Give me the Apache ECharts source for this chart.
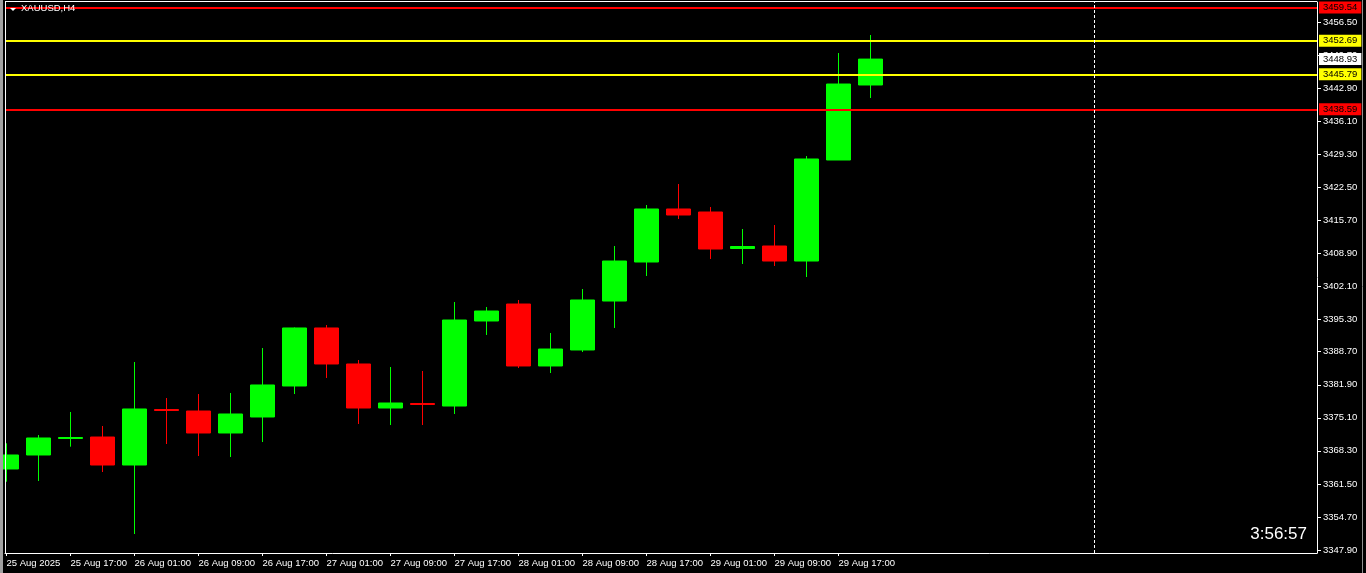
<!DOCTYPE html>
<html><head><meta charset="utf-8">
<script src="https://cdn.jsdelivr.net/npm/echarts@6/dist/echarts.min.js"></script>
<style>html,body{margin:0;padding:0;background:#000;}#c{width:1366px;height:573px;}</style>
</head><body><div id="c"></div>
<script>
const symbolText = 'XAUUSD,H4';
const timerText = '3:56:57';
const timeLabels = ['25 Aug 2025','25 Aug 17:00','26 Aug 01:00','26 Aug 09:00','26 Aug 17:00','27 Aug 01:00','27 Aug 09:00','27 Aug 17:00','28 Aug 01:00','28 Aug 09:00','28 Aug 17:00','29 Aug 01:00','29 Aug 09:00','29 Aug 17:00'];
const opens  = [3364.57,3367.45,3370.85,3371.15,3365.39,3376.81,3376.50,3371.98,3375.27,3381.65,3393.59,3386.18,3377.12,3378.05,3377.53,3395.03,3398.52,3385.77,3389.06,3399.14,3407.17,3418.08,3417.46,3409.95,3410.46,3407.37,3428.16,3443.60];
const closes = [3367.45,3370.95,3371.05,3365.39,3376.92,3376.61,3371.98,3375.89,3381.86,3393.59,3386.18,3377.12,3378.15,3377.84,3395.23,3397.08,3385.77,3389.26,3399.35,3407.37,3418.08,3416.84,3409.84,3410.36,3407.37,3428.37,3443.80,3448.93];
const lows   = [3361.95,3362.10,3369.16,3363.95,3351.19,3369.71,3367.24,3367.04,3370.12,3380.00,3383.30,3373.83,3373.62,3373.62,3375.89,3392.15,3385.35,3384.32,3388.65,3393.59,3404.29,3416.02,3407.79,3406.76,3406.35,3404.08,3428.16,3440.92];
const highs  = [3369.86,3371.56,3376.30,3373.42,3386.59,3379.18,3380.00,3380.21,3389.47,3393.70,3394.20,3387.00,3385.56,3384.74,3398.94,3397.91,3399.35,3392.56,3401.61,3410.46,3418.90,3423.22,3418.49,3413.96,3414.78,3428.98,3450.18,3453.89];
const yTickLabels = [3347.90,3354.70,3361.50,3368.30,3375.10,3381.90,3388.70,3395.30,3402.10,3408.90,3415.70,3422.50,3429.30,3436.10,3442.90,3449.70,3456.50];
const redLevels = [3459.54, 3438.59];
const yellowLevels = [3452.69, 3445.79];
const lastPrice = 3448.93;
const separatorBar = 34;
const yMin = 3347.28, yMax = 3460.68;
const xMin = -0.047, xMax = 40.953;

const FONT = '"Liberation Sans", Arial, sans-serif';
const candles = opens.map((o, i) => [i, o, closes[i], lows[i], highs[i]]);
const labelIdx = timeLabels.map((_, i) => i * 2);

function levelItem(v, bg, lineW) {
  return {
    yAxis: v,
    lineStyle: { color: lineW ? bg : 'transparent', width: lineW, type: 'solid' },
    label: { show: true, position: 'end', distance: 2, formatter: v.toFixed(2),
      backgroundColor: bg, color: '#000', padding: [1, 4, 1, 4], fontSize: 9.5,
      lineHeight: 10, fontFamily: FONT }
  };
}
const mlData = [];
redLevels.forEach(v => mlData.push(levelItem(v, '#ff0000', 2)));
yellowLevels.forEach(v => mlData.push(levelItem(v, '#ffff00', 2)));
mlData.push(levelItem(lastPrice, '#ffffff', 0));
mlData.push({ xAxis: separatorBar, lineStyle: { color: '#ffffff', width: 1, type: [3, 2] }, label: { show: false } });

const chart = echarts.init(document.getElementById('c'), null, { renderer: 'canvas' });
chart.setOption({
  backgroundColor: '#000',
  animation: false,
  title: { text: symbolText, left: 21, top: 3, padding: 0,
    textStyle: { color: '#fff', fontSize: 9.5, fontWeight: 'normal', fontFamily: FONT } },
  grid: { left: 5, right: 49, top: 2, bottom: 20, show: false },
  xAxis: {
    type: 'value', min: xMin, max: xMax, position: 'bottom',
    axisLine: { show: true, onZero: false, lineStyle: { color: '#fff', width: 1 } },
    axisTick: { show: true, customValues: labelIdx, length: 3, lineStyle: { color: '#fff' } },
    axisLabel: { show: true, customValues: labelIdx, formatter: v => timeLabels[Math.round(v / 2)],
      align: 'left', margin: 5.5, color: '#fff', fontSize: 9.5, fontFamily: FONT },
    splitLine: { show: false }
  },
  yAxis: {
    type: 'value', min: yMin, max: yMax, position: 'right',
    axisLine: { show: true, onZero: false, lineStyle: { color: '#fff', width: 1 } },
    axisTick: { show: true, customValues: yTickLabels, length: 4, lineStyle: { color: '#fff' } },
    axisLabel: { show: true, customValues: yTickLabels, formatter: v => v.toFixed(2),
      color: '#fff', fontSize: 9.5, fontFamily: FONT, margin: 6 },
    splitLine: { show: false }
  },
  series: [{
    type: 'candlestick',
    data: candles,
    barWidth: 24,
    itemStyle: { color: '#00ff00', color0: '#ff0000', borderColor: '#00ff00', borderColor0: '#ff0000', borderWidth: 1 },
    markLine: { silent: true, symbol: ['none', 'none'], animation: false, data: mlData }
  }],
  graphic: [
    { type: 'rect', z: 100, shape: { x: 0, y: 0, width: 3, height: 573 }, style: { fill: '#a0a0a0' } },
    { type: 'line', z: 100, shape: { x1: 5.5, y1: 1, x2: 5.5, y2: 553 }, style: { stroke: '#fff', lineWidth: 1 } },
    { type: 'line', z: 100, shape: { x1: 5, y1: 1.5, x2: 1317, y2: 1.5 }, style: { stroke: '#fff', lineWidth: 1 } },
    { type: 'line', z: 100, shape: { x1: 1362.5, y1: 0, x2: 1362.5, y2: 573 }, style: { stroke: '#909090', lineWidth: 1 } },
    { type: 'polygon', z: 100, shape: { points: [[10, 8], [16, 8], [13, 11]] }, style: { fill: '#fff' } },
    { type: 'text', z: 100, x: 1307, y: 534, style: { text: timerText, align: 'right', verticalAlign: 'middle',
      fill: '#fff', fontSize: 17, fontFamily: FONT } }
  ]
});
</script></body></html>
